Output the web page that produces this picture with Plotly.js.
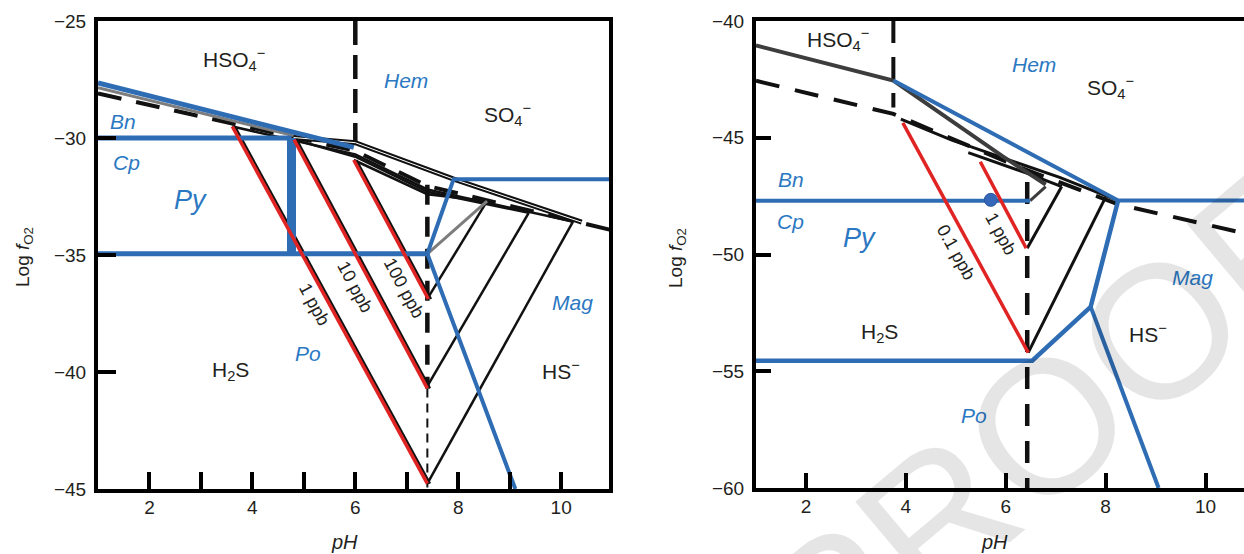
<!DOCTYPE html>
<html>
<head>
<meta charset="utf-8">
<script src="https://cdn.plot.ly/plotly-3.0.1.min.js"></script>
<style>html,body{margin:0;padding:0;background:#fff;}#chart{width:1244px;height:554px;}</style>
</head>
<body>
<div id="chart"></div>
<script>
// ---------------- Panel A (left) data: pH vs log fO2 ----------------
const aHemTopX = [1, 5.97];            const aHemTopY = [-27.65, -30.4];
const aGreyTopX = [1, 4.8];            const aGreyTopY = [-27.85, -29.9];
const aBnCpX = [1, 4.76];              const aBnCpY = [-30.0, -30.0];
const aPyVertX = [4.76, 4.76];         const aPyVertY = [-30.0, -34.95];
const aPyPoX = [1, 7.4];               const aPyPoY = [-34.95, -34.95];
const aMagX = [9.11, 7.4, 7.91, 11];   const aMagY = [-45, -34.95, -31.76, -31.76];
const aSulfDashX = [1, 6, 7.4, 11];    const aSulfDashY = [-28.1, -30.55, -32.05, -33.95];
const aVDash6X = [6, 6];               const aVDash6Y = [-25, -30.2];
const aVDashThickX = [7.4, 7.4];       const aVDashThickY = [-32.0, -40.7];
const aVDashThinX = [7.4, 7.4];        const aVDashThinY = [-40.7, -45];
const aUpperX = [4.8, 6.0, 7.9, 10.4]; const aUpperY = [-29.98, -30.2, -31.75, -33.6];
const aTop1X = [3.61, 6.0, 7.4, 10.23];   const aTop1Y = [-29.51, -30.7, -32.2, -33.57];
const aTop10X = [4.81, 6.0, 7.4, 9.37];   const aTop10Y = [-30.07, -30.8, -32.3, -33.2];
const aTop100X = [5.97, 7.4, 8.56];       const aTop100Y = [-30.94, -32.4, -32.7];
const aArm1X = [7.4, 10.23];   const aArm1Y = [-44.77, -33.57];
const aArm10X = [7.4, 9.37];   const aArm10Y = [-40.6, -33.2];
const aArm100X = [7.42, 8.56]; const aArm100Y = [-36.8, -32.7];
const aGreyArmX = [7.4, 8.56]; const aGreyArmY = [-34.95, -32.7];
const aRed1X = [3.61, 7.4];    const aRed1Y = [-29.51, -44.77];
const aRed10X = [4.81, 7.4];   const aRed10Y = [-30.07, -40.7];
const aRed100X = [5.97, 7.42]; const aRed100Y = [-30.94, -36.88];

// ---------------- Panel B (right) data ----------------
const bGreyTopX = [1, 3.75, 5.94, 6.8];   const bGreyTopY = [-41.05, -42.55, -45.8, -47.0];
const bHemX = [3.75, 8.25, 11];           const bHemY = [-42.55, -47.69, -47.69];
const bBnCpX = [1, 6.49];                 const bBnCpY = [-47.7, -47.7];
const bPoX = [1, 6.53, 7.7, 8.25];        const bPoY = [-54.55, -54.55, -52.24, -47.69];
const bMagHsX = [7.7, 9.06];              const bMagHsY = [-52.24, -60];
const bSulfDashX = [1, 3.75, 6.26, 8.25, 11]; const bSulfDashY = [-42.56, -43.98, -46.25, -47.85, -49.2];
const bVDashAX = [3.75, 3.75];            const bVDashAY = [-40, -43.7];
const bVDashBX = [6.43, 6.43];            const bVDashBY = [-46.9, -60];
const bTop01X = [3.9, 4.92, 7.08, 8.25];  const bTop01Y = [-44.2, -45.1, -46.7, -47.69];
const bTop1X = [5.25, 6.49, 7.12];        const bTop1Y = [-45.64, -46.57, -47.09];
const bArm01X = [6.45, 8.0];              const bArm01Y = [-54.2, -47.54];
const bArm1X = [6.43, 7.12];              const bArm1Y = [-49.73, -47.09];
const bGreyArmX = [6.49, 6.8];            const bGreyArmY = [-47.69, -47.09];
const bRed01X = [3.94, 6.45];             const bRed01Y = [-44.36, -54.2];
const bRed1X = [5.49, 6.41];              const bRed1Y = [-46.03, -49.73];
const bDotX = [5.70];                     const bDotY = [-47.66];

// ---------------- Labels ----------------
const aLabText = ['HSO<sub>4</sub><sup>−</sup>', 'SO<sub>4</sub><sup>−</sup>', 'H<sub>2</sub>S', 'HS<sup>−</sup>'];
const aLabX = [3.65, 8.95, 3.57, 10.0];
const aLabY = [-26.65, -28.98, -39.96, -39.9];
const aMinText = ['Hem', 'Bn', 'Cp', 'Py', 'Mag', 'Po'];
const aMinX = [6.98, 1.48, 1.56, 2.8, 10.23, 5.08];
const aMinY = [-27.56, -29.29, -31.06, -32.67, -37.03, -39.2];
const aPpbText = ['1 ppb', '10 ppb', '100 ppb'];
const aPpbX = [5.2, 6.0, 6.94];
const aPpbY = [-37.1, -36.35, -36.43];

const bLabText = ['HSO<sub>4</sub><sup>−</sup>', 'SO<sub>4</sub><sup>−</sup>', 'H<sub>2</sub>S', 'HS<sup>−</sup>'];
const bLabX = [2.65, 8.1, 3.47, 8.84];
const bLabY = [-40.8, -42.85, -53.37, -53.37];
const bMinText = ['Hem', 'Bn', 'Cp', 'Py', 'Mag', 'Po'];
const bMinX = [6.57, 1.7, 1.7, 3.08, 9.74, 5.37];
const bMinY = [-41.87, -46.8, -48.6, -49.3, -51.0, -56.9];
const bPpbText = ['0.1 ppb', '1 ppb'];
const bPpbX = [5.0, 5.9];
const bPpbY = [-49.9, -49.13];

const aXTickVals = [2, 4, 6, 8, 10];
const aXMinorVals = [3, 5, 7, 9];
const bXTickVals = [2, 4, 6, 8, 10];
const aYTickVals = [-45, -40, -35, -30, -25];
const bYTickVals = [-60, -55, -50, -45, -40];

// ---------------- Styles ----------------
const FONT = '"Liberation Sans", Arial, Helvetica, sans-serif';
const BLUE = '#2e6cb4';
const LBLUE = '#2b78c2';
const RED = '#e02424';
const BLACK = '#111111';
const GREY = '#7d7d7d';
const DGREY = '#3d3d3d';

const traces = [];
function ln(x, y, ax, color, width, dash) {
  traces.push({
    type: 'scatter', mode: 'lines', x: x, y: y,
    xaxis: ax === 'a' ? 'x' : 'x2', yaxis: ax === 'a' ? 'y' : 'y2',
    line: {color: color, width: width, dash: dash || 'solid'},
    hoverinfo: 'skip', showlegend: false
  });
}
function shifted(arr, d) { return arr.map(v => v + d); }

// Panel A
ln(aSulfDashX, aSulfDashY, 'a', BLACK, 4, '24px,15px');
ln(aVDash6X, aVDash6Y, 'a', BLACK, 4.5, '24px,10px');
ln(aVDashThickX, aVDashThickY, 'a', BLACK, 4.5, '20px,12px');
ln(aVDashThinX, aVDashThinY, 'a', BLACK, 2, '9px,6px');
ln(aTop1X, aTop1Y, 'a', BLACK, 2.5);
ln(aTop10X, aTop10Y, 'a', BLACK, 2.5);
ln(aTop100X, aTop100Y, 'a', BLACK, 2.5);
ln(aUpperX, aUpperY, 'a', BLACK, 5);
ln(aUpperX, aUpperY, 'a', '#ffffff', 1);
ln(aArm1X, aArm1Y, 'a', BLACK, 2.5);
ln(aArm10X, aArm10Y, 'a', BLACK, 2.5);
ln(aArm100X, aArm100Y, 'a', BLACK, 2.5);
ln(aGreyArmX, aGreyArmY, 'a', GREY, 3);
ln(shifted(aRed1X, 0.05), aRed1Y, 'a', BLACK, 2.5);
ln(shifted(aRed10X, 0.05), aRed10Y, 'a', BLACK, 2.5);
ln(shifted(aRed100X, 0.05), aRed100Y, 'a', BLACK, 2.5);
ln(aGreyTopX, aGreyTopY, 'a', GREY, 3);
ln(aHemTopX, aHemTopY, 'a', BLUE, 5);
ln(aBnCpX, aBnCpY, 'a', BLUE, 5);
ln(aPyPoX, aPyPoY, 'a', BLUE, 5);
ln(aPyVertX, aPyVertY, 'a', BLUE, 9);
ln(aMagX, aMagY, 'a', BLUE, 4);
ln(aRed1X, aRed1Y, 'a', RED, 3.5);
ln(aRed10X, aRed10Y, 'a', RED, 3.5);
ln(aRed100X, aRed100Y, 'a', RED, 3.5);

// Panel B
ln(bSulfDashX, bSulfDashY, 'b', BLACK, 4, '24px,16px');
ln(bVDashAX, bVDashAY, 'b', BLACK, 4, '22px,14px');
ln(bVDashBX, bVDashBY, 'b', BLACK, 4.5, '22px,15px');
ln(bTop01X, bTop01Y, 'b', BLACK, 3);
ln(bTop1X, bTop1Y, 'b', BLACK, 3);
ln(bGreyTopX, bGreyTopY, 'b', DGREY, 4);
ln(bArm01X, bArm01Y, 'b', BLACK, 3);
ln(bArm1X, bArm1Y, 'b', BLACK, 3);
ln(bGreyArmX, bGreyArmY, 'b', DGREY, 3);
ln(bHemX, bHemY, 'b', BLUE, 4);
ln(bBnCpX, bBnCpY, 'b', BLUE, 4);
ln(bPoX, bPoY, 'b', BLUE, 4.5);
ln(bMagHsX, bMagHsY, 'b', BLUE, 4);
ln(bRed01X, bRed01Y, 'b', RED, 3.5);
ln(bRed1X, bRed1Y, 'b', RED, 3.5);
traces.push({type: 'scatter', mode: 'markers', x: bDotX, y: bDotY, xaxis: 'x2', yaxis: 'y2',
  marker: {color: '#3567b8', size: 13, line: {color: '#2a56a0', width: 1}}, hoverinfo: 'skip', showlegend: false});

// ---------------- Annotations ----------------
const ann = [];
function addLabels(texts, xs, ys, panel, opts) {
  texts.forEach((t, i) => {
    ann.push(Object.assign({
      text: t, x: xs[i], y: ys[i],
      xref: panel === 'a' ? 'x' : 'x2', yref: panel === 'a' ? 'y' : 'y2',
      showarrow: false, xanchor: 'center', yanchor: 'middle'
    }, typeof opts === 'function' ? opts(t, i) : opts));
  });
}
addLabels(aLabText, aLabX, aLabY, 'a', {font: {family: FONT, size: 21, color: '#231f20'}});
addLabels(bLabText, bLabX, bLabY, 'b', {font: {family: FONT, size: 21, color: '#231f20'}});
const minOpts = (t) => ({text: '<i>' + t + '</i>', font: {family: FONT, size: t === 'Py' ? 27 : 21, color: LBLUE}});
addLabels(aMinText, aMinX, aMinY, 'a', minOpts);
addLabels(bMinText, bMinX, bMinY, 'b', minOpts);
addLabels(aPpbText, aPpbX, aPpbY, 'a', {textangle: 61.6, font: {family: FONT, size: 18, color: '#231f20'}});
addLabels(bPpbText, bPpbX, bPpbY, 'b', {textangle: 61, font: {family: FONT, size: 18, color: '#231f20'}});

// axis titles (paper = full figure since margins are 0)
const yTitle = 'Log <i>f</i><sub>O2</sub>';
const cen = {xanchor: 'center', yanchor: 'middle', showarrow: false, xref: 'paper', yref: 'paper'};
ann.push(Object.assign({text: yTitle, x: 24 / 1244, y: 1 - 257 / 554, textangle: -90,
  font: {family: FONT, size: 19, color: '#231f20'}}, cen));
ann.push(Object.assign({text: yTitle, x: 677 / 1244, y: 1 - 258 / 554, textangle: -90,
  font: {family: FONT, size: 19, color: '#231f20'}}, cen));
ann.push(Object.assign({text: '<i>pH</i>', x: 344 / 1244, y: 1 - 542 / 554,
  font: {family: FONT, size: 20, color: '#231f20'}}, cen));
ann.push(Object.assign({text: '<i>pH</i>', x: 995 / 1244, y: 1 - 542 / 554,
  font: {family: FONT, size: 20, color: '#231f20'}}, cen));
// watermark
ann.push(Object.assign({text: 'PROOFS', x: 1095 / 1244, y: 1 - 385 / 554, textangle: -40,
  font: {family: FONT, size: 190, color: 'rgba(0,0,0,0.10)'}}, cen));

const tickFont = {family: FONT, size: 19, color: '#231f20'};
const common = {showgrid: false, zeroline: false, ticks: 'inside', tickwidth: 4, tickcolor: '#000',
  showline: true, linecolor: '#000', linewidth: 4, tickfont: tickFont};

const layout = {
  width: 1244, height: 554,
  margin: {l: 0, r: 0, t: 0, b: 0},
  paper_bgcolor: '#fff', plot_bgcolor: '#fff',
  showlegend: false,
  xaxis: Object.assign({}, common, {domain: [98 / 1244, 609 / 1244], range: [1, 10.93], anchor: 'y',
    tickmode: 'array', tickvals: aXTickVals, ticklen: 17, mirror: true, ticklabelstandoff: -2,
    minor: {tickmode: 'array', tickvals: aXMinorVals, ticks: 'inside', ticklen: 17, tickwidth: 4, tickcolor: '#000', showgrid: false}}),
  yaxis: Object.assign({}, common, {domain: [1 - 489 / 554, 1 - 21 / 554], range: [-45, -25], anchor: 'x',
    tickmode: 'array', tickvals: aYTickVals, ticklen: 18, mirror: true, ticklabelstandoff: 4}),
  xaxis2: Object.assign({}, common, {domain: [756 / 1244, 1], range: [1, 10.77], anchor: 'y2',
    tickmode: 'array', tickvals: bXTickVals, ticklen: 15, mirror: true, ticklabelstandoff: -2}),
  yaxis2: Object.assign({}, common, {domain: [1 - 488 / 554, 1 - 21 / 554], range: [-60, -40], anchor: 'x2',
    tickmode: 'array', tickvals: bYTickVals, ticklen: 15, mirror: false, ticklabelstandoff: 4}),
  annotations: ann
};

Plotly.newPlot('chart', traces, layout, {staticPlot: true, displayModeBar: false});
</script>
</body>
</html>
